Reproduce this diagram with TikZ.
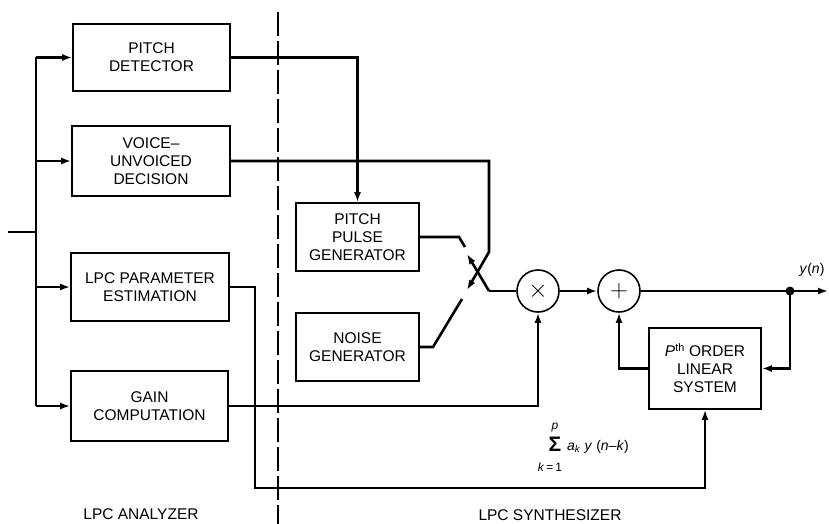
\documentclass[tikz,border=0pt]{standalone}
\usepackage{fontspec}
\setmainfont{Liberation Sans}
\usetikzlibrary{arrows.meta}
\begin{document}
\begin{tikzpicture}[x=1pt,y=-1pt,
  blk/.style={draw, line width=1.6pt, inner sep=0pt, align=center, font=\fontsize{15.5}{18}\selectfont},
  wire/.style={line width=2.6pt},
  arr/.style={wire, -{Latex[length=10pt,width=7pt]}},
  circ/.style={draw, circle, line width=1.6pt, minimum size=42pt, inner sep=0pt},
  lbl/.style={font=\fontsize{15.5}{18}\selectfont},
  sml/.style={inner sep=0pt, font=\fontsize{12}{12}\selectfont},
  sep/.style={line width=1.3pt, dash pattern=on 24pt off 5pt}]
\useasboundingbox (0,0) rectangle (829,524);

% analyzer blocks
\node[blk, minimum width=157pt, minimum height=67pt] (pd) at (151.5,57.5) {PITCH\\DETECTOR};
\node[blk, minimum width=158pt, minimum height=70pt] (vu) at (151,161) {VOICE--\\UNVOICED\\DECISION};
\node[blk, minimum width=158pt, minimum height=68pt] (lpc) at (150,287) {LPC PARAMETER\\ESTIMATION};
\node[blk, minimum width=157pt, minimum height=70pt] (gain) at (149.5,406) {GAIN\\COMPUTATION};

% synthesizer blocks
\node[blk, minimum width=123pt, minimum height=68pt] (ppg) at (357.5,237) {PITCH\\PULSE\\GENERATOR};
\node[blk, minimum width=123pt, minimum height=68pt] (ng) at (357.5,347) {NOISE\\GENERATOR};
\node[blk, minimum width=112pt, minimum height=81pt] (ps) at (705,368.5) {\textit{P}\textsuperscript{th} ORDER\\LINEAR\\SYSTEM};
\node[circ] (mul) at (538,291) {\fontsize{24}{24}\selectfont$\times$};
\node[circ] (add) at (619,291) {\fontsize{26}{26}\selectfont$+$};

% coordinates
\coordinate (in) at (8,232);
\coordinate (bt) at (36,57.5);
\coordinate (bb) at (36,406);
\coordinate (sw) at (489,291);
\coordinate (sa) at (467,254);
\coordinate (cb) at (489,252);
\coordinate (ct) at (467,290);
\coordinate (uc1) at (459,237);
\coordinate (uc2) at (465,247);
\coordinate (lc1) at (433,347);
\coordinate (lc2) at (462,299);
\coordinate (out) at (828,291);
\coordinate (dot) at (790,291);
\coordinate (lb) at (255,488);
\coordinate (dtop) at (278,12);
\coordinate (dbot) at (278,524);

% separator
\draw[sep] (dtop) -- (dbot);

% input bus
\draw[wire] (in) -- (in -| bt);
\draw[wire] (bt) -- (bb);
\draw[arr] (pd.west -| bt) -- (pd.west);
\draw[arr] (vu.west -| bt) -- (vu.west);
\draw[arr] (lpc.west -| bt) -- (lpc.west);
\draw[arr] (gain.west -| bt) -- (gain.west);

% analyzer outputs
\draw[arr] (pd.east) -| (ppg.north);
\draw[arr] (vu.east) -| (cb) -- (ct);
\draw[arr] (lpc.east) -| (lb) -| (ps.south);
\draw[arr] (gain.east) -| (mul.south);

% switch
\draw[wire] (ppg.east) -- (uc1) -- (uc2);
\draw[wire] (ng.east) -- (lc1) -- (lc2);
\draw[arr] (sw) -- (sa);
\draw[wire] (sw) -- (mul.west);

% synthesis filter
\draw[arr] (mul.east) -- (add.west);
\draw[arr] (add.east) -- (out);
\fill (dot) circle (4.5pt);
\draw[arr] (dot) |- (ps.east);
\draw[arr] (ps.west) -| (add.south);

% labels
\node[lbl, font=\fontsize{14}{16}\selectfont] (yn) at (812,270) {\textit{y}(\textit{n})};
\node[inner sep=0pt, font=\fontsize{21}{21}\selectfont\bfseries] (sig) at (555,444) {Σ};
\node[sml, font=\fontsize{12}{12}\selectfont\itshape] (sigp) at (555,428) {p};
\node[sml] (sigk) at (550,467) {\textit{k}\,=\,1};
\node[sml, anchor=west, font=\fontsize{14}{14}\selectfont] (sigt) at (567,447) {\textit{a}\textsubscript{\textit{k}} \textit{y} (\textit{n}–\textit{k})};
\node[lbl] (ana) at (141,514) {LPC ANALYZER};
\node[lbl] (syn) at (550,515) {LPC SYNTHESIZER};
\end{tikzpicture}
\end{document}
